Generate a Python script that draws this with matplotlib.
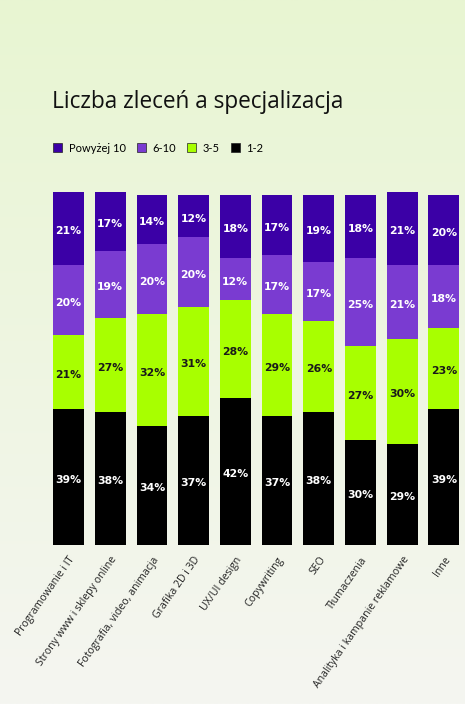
import matplotlib
matplotlib.use("Agg")
import matplotlib.pyplot as plt
from matplotlib.patches import Patch
import numpy as np

categories = ["Programowanie i IT", "Strony www i sklepy online",
              "Fotografia, video, animacja", "Grafika 2D i 3D", "UX/UI design",
              "Copywriting", "SEO", "Tłumaczenia",
              "Analityka i kampanie reklamowe", "Inne"]
v_1_2 = [39, 38, 34, 37, 42, 37, 38, 30, 29, 39]
v_3_5 = [21, 27, 32, 31, 28, 29, 26, 27, 30, 23]
v_6_10 = [20, 19, 20, 20, 12, 17, 17, 25, 21, 18]
v_10p = [21, 17, 14, 12, 18, 17, 19, 18, 21, 20]

series = [("1-2", v_1_2, "#000000", "white"),
          ("3-5", v_3_5, "#a8ff00", "#1a1a1a"),
          ("6-10", v_6_10, "#7a3bd1", "white"),
          ("Powyżej 10", v_10p, "#3b00a6", "white")]

fig = plt.figure(figsize=(4.65, 7.04), dpi=100)

# background gradient
bg = fig.add_axes([0, 0, 1, 1], zorder=-1)
top = np.array([232, 245, 210]) / 255
bot = np.array([245, 246, 241]) / 255
t = np.linspace(0, 1, 256)[:, None]
grad = (top * (1 - t) + bot * t)[:, None, :]
bg.imshow(grad, aspect="auto", extent=[0, 1, 0, 1])
bg.axis("off")

ax = fig.add_axes([47.7 / 465, 1 - 545 / 704, 417 / 465, 353.5 / 704])
ax.patch.set_alpha(0)
x = np.arange(len(categories))
bottom = np.zeros(len(categories))
for name, vals, col, tcol in series:
    vals = np.array(vals)
    ax.bar(x, vals, 0.74, bottom=bottom, color=col, label=name)
    for xi, b, v in zip(x, bottom, vals):
        ax.text(xi, b + v / 2 - 0.8, f"{v}%", ha="center", va="center",
                color=tcol, fontsize=7.8, fontweight="bold")
    bottom += vals

ax.set_xlim(-0.5, 9.5)
ax.set_ylim(0, 101)
ax.set_yticks([])
ax.set_xticks(x)
ax.set_xticklabels(categories, rotation=55, ha="right", rotation_mode="anchor",
                   fontsize=7.6, color="#222222", family="Open Sans")
ax.tick_params(axis="x", length=0, pad=7)
for s in ax.spines.values():
    s.set_visible(False)

fig.text(52 / 465, 1 - 108 / 704, "Liczba zleceń a specjalizacja",
         fontsize=16.3, family="Open Sans", color="#111111")

handles = [Patch(facecolor=c, edgecolor="#222222", linewidth=0.5, label=n)
           for n, _, c, _ in reversed(series)]
fig.legend(handles=handles, loc="center left", ncol=4,
           bbox_to_anchor=(43 / 465, 1 - 148 / 704), frameon=False,
           handlelength=0.8, handleheight=0.8,
           handletextpad=0.6, columnspacing=1.0, prop={"family": "Lato", "size": 8})

fig.savefig("out.png", dpi=100)
